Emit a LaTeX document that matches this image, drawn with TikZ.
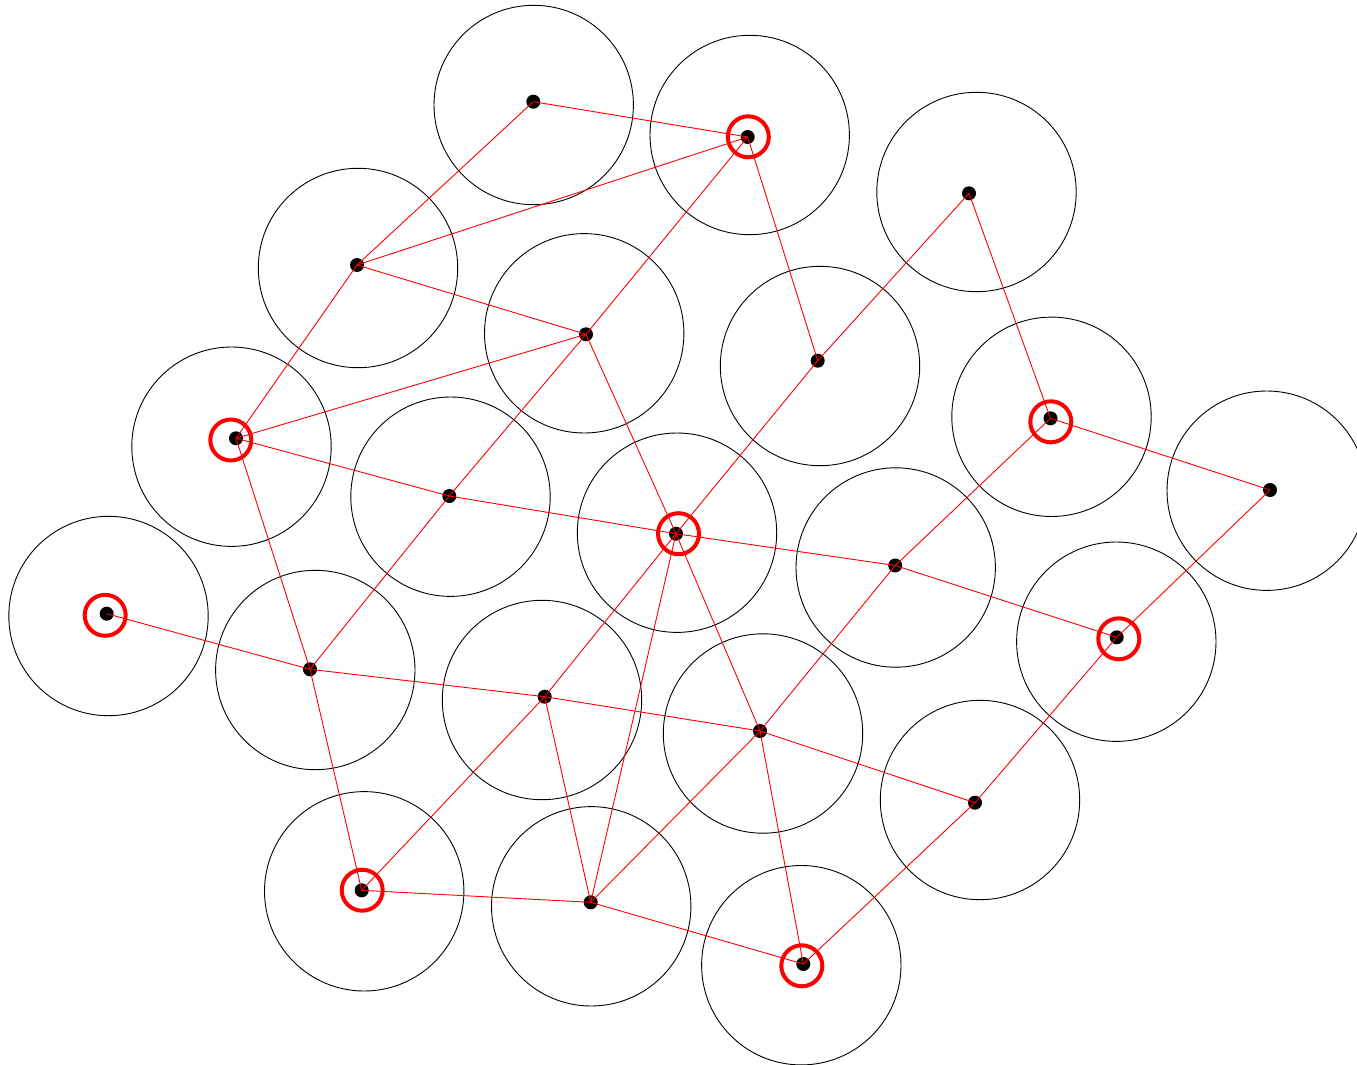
\documentclass[tikz,border=0pt]{standalone}
\begin{document}
\begin{tikzpicture}[x=1pt,y=-1pt,
  zone/.style={draw=black,line width=0.9pt},
  link/.style={draw=red,line width=0.9pt},
  hit/.style={draw=red,line width=4pt}]
\useasboundingbox (0,0) rectangle (1357,1065);
\foreach \x/\y in {533.7/105,749.7/135,976.5/192,358/268,584.2/333.3,820/366,231.5/446.7,
  450.5/496.7,677/532.7,1051.5/416.8,1266.7/490.7,895.7/567.5,108.5/616,315.3/670,542/700,
  763/733.5,1116.3/641.7,980/800,364.2/891.3,591.2/906.3,801.3/965.2}
  \draw[zone] (\x,\y) circle (99.7);
\foreach \n/\x/\y in {1/533.3/101.7,2/747.7/137,3/969/193.3,4/357/265,5/586/334.3,
  6/817.7/360.7,7/236/438.3,8/449.3/496,9/676/533.7,10/1050.5/418.3,11/1270/490,
  12/895.2/565.5,13/106.7/613.7,14/310/669.3,15/544.7/696.7,16/760/731,17/1116.7/637.3,
  18/975/802.7,19/361.7/890.3,20/590.7/902.3,21/803.3/964}
  {\coordinate (p\n) at (\x,\y); \fill (p\n) circle (7);}
\foreach \a/\b in {1/2,1/4,4/2,4/5,4/7,2/5,2/6,3/6,3/10,6/9,5/7,5/8,5/9,7/8,8/9,7/14,8/14,
  9/12,10/12,10/11,11/17,12/17,12/16,17/18,16/18,9/16,9/15,9/20,13/14,14/15,15/16,15/19,
  15/20,16/20,16/21,14/19,19/20,20/21,18/21}
  \draw[link] (p\a) -- (p\b);
\foreach \n/\dx/\dy in {2/0.6/-0.2,7/-5.2/1.7,9/2.5/0,10/0.3/3.5,13/-1.5/1.6,17/2.1/1.5,
  19/0.5/-0.1,21/-1.5/1.8}
  \draw[hit] ([shift={(\dx,\dy)}]p\n) circle (20.5);
\end{tikzpicture}
\end{document}
